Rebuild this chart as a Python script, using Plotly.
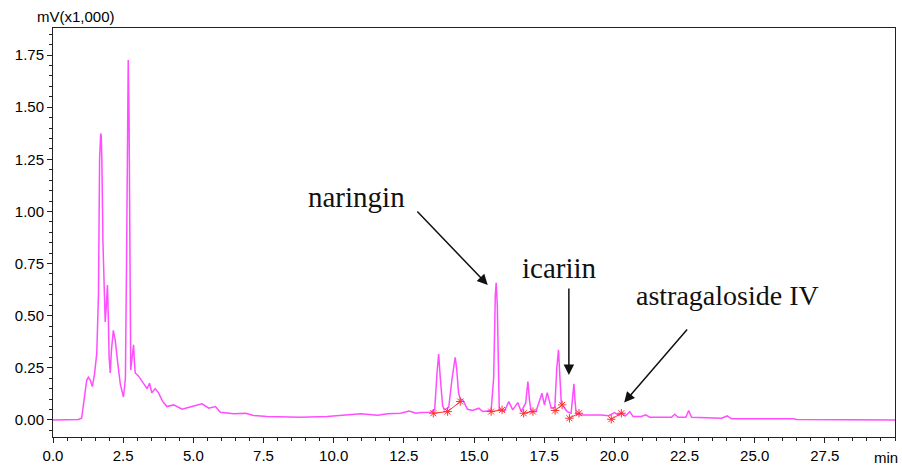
import plotly.graph_objects as go

# Chromatogram (time in min, signal in mV x1000)
time_min = [0.0, 0.9, 1.02, 1.10, 1.20, 1.26, 1.33, 1.40, 1.48, 1.56, 1.62, 1.66, 1.68, 1.70, 1.72, 1.74,
            1.78, 1.82, 1.86, 1.90, 1.94, 1.97, 2.00, 2.04, 2.08, 2.15, 2.22, 2.30, 2.40, 2.51, 2.58,
            2.62, 2.65, 2.68, 2.71, 2.74, 2.77, 2.82, 2.87, 2.90, 2.93, 3.05, 3.20, 3.35, 3.44, 3.52,
            3.64, 3.76, 3.90, 4.06, 4.30, 4.60, 4.95, 5.15, 5.31, 5.55, 5.79, 5.96, 6.44, 6.86, 7.15,
            7.63, 8.82, 9.77, 10.2, 10.6, 10.96, 11.56, 11.92, 12.39, 12.69, 12.93, 13.11, 13.46,
            13.60, 13.68, 13.74, 13.80, 13.88, 13.94, 14.10, 14.22, 14.30, 14.33, 14.38, 14.45, 14.51,
            14.60, 14.77, 14.95, 15.17, 15.31, 15.61, 15.70, 15.76, 15.79, 15.83, 15.87, 15.90, 16.08,
            16.24, 16.38, 16.56, 16.68, 16.84, 16.92, 16.98, 17.04, 17.21, 17.42, 17.51, 17.61, 17.75,
            17.88, 17.95, 18.01, 18.06, 18.11, 18.17, 18.32, 18.46, 18.51, 18.56, 18.60, 18.64, 18.82,
            19.54, 19.80, 20.01, 20.13, 20.27, 20.39, 20.55, 20.67, 20.96, 21.12, 21.26, 22.04, 22.15,
            22.27, 22.55, 22.65, 22.75, 23.82, 24.02, 24.18, 25.30, 26.38, 26.50, 30.0]
signal = [0.0, 0.002, 0.008, 0.10, 0.19, 0.205, 0.19, 0.16, 0.22, 0.32, 0.60, 1.25, 1.35, 1.374, 1.36, 1.25,
          0.85, 0.58, 0.47, 0.55, 0.647, 0.50, 0.30, 0.225, 0.33, 0.43, 0.38, 0.28, 0.17, 0.11, 0.20,
          0.75, 1.55, 1.726, 1.45, 0.60, 0.24, 0.30, 0.36, 0.28, 0.225, 0.21, 0.18, 0.15, 0.176, 0.13,
          0.15, 0.13, 0.09, 0.064, 0.072, 0.051, 0.064, 0.070, 0.077, 0.056, 0.064, 0.037, 0.029, 0.032, 0.021,
          0.016, 0.013, 0.016, 0.020, 0.026, 0.029, 0.022, 0.029, 0.032, 0.043, 0.032, 0.035, 0.037,
          0.05, 0.22, 0.316, 0.20, 0.07, 0.048, 0.06, 0.20, 0.29, 0.30, 0.25, 0.13, 0.099,
          0.096, 0.051, 0.045, 0.056, 0.040, 0.045, 0.20, 0.60, 0.658, 0.55, 0.15, 0.048, 0.040,
          0.088, 0.048, 0.083, 0.040, 0.08, 0.184, 0.09, 0.040, 0.040, 0.128, 0.072, 0.131, 0.056,
          0.06, 0.25, 0.336, 0.22, 0.08, 0.067, 0.040, 0.032, 0.09, 0.173, 0.09, 0.032, 0.024,
          0.024, 0.020, 0.035, 0.024, 0.035, 0.019, 0.040, 0.016, 0.016, 0.024, 0.013, 0.013, 0.027,
          0.013, 0.013, 0.045, 0.013, 0.008, 0.019, 0.005, 0.004, 0.006, 0.002, 0.0]

# Integration marks (peak start/end) and their baseline pairs
mark_t = [13.55, 14.06, 14.51, 15.61, 16.0, 16.77, 17.1, 17.89, 18.14, 18.4, 18.74, 19.89, 20.25]
mark_v = [0.032, 0.040, 0.088, 0.040, 0.048, 0.032, 0.040, 0.045, 0.072, 0.008, 0.032, 0.003, 0.032]
baseline_pairs = [(0, 1), (1, 2), (3, 4), (5, 6), (7, 8), (9, 10), (11, 12)]

x_ticks = [0, 2.5, 5, 7.5, 10, 12.5, 15, 17.5, 20, 22.5, 25, 27.5]
x_labels = ["0.0", "2.5", "5.0", "7.5", "10.0", "12.5", "15.0", "17.5", "20.0", "22.5", "25.0", "27.5"]
y_ticks = [0, 0.25, 0.5, 0.75, 1.0, 1.25, 1.5, 1.75]
y_labels = ["0.00", "0.25", "0.50", "0.75", "1.00", "1.25", "1.50", "1.75"]

seg_x, seg_y = [], []
for a, b in baseline_pairs:
    seg_x += [mark_t[a], mark_t[b], None]
    seg_y += [mark_v[a], mark_v[b], None]

fig = go.Figure()
fig.add_trace(go.Scatter(x=time_min, y=signal, mode="lines",
                         line=dict(color="#FF4DFF", width=1.5), hoverinfo="skip"))
fig.add_trace(go.Scatter(x=seg_x, y=seg_y, mode="lines",
                         line=dict(color="#FF3030", width=1), hoverinfo="skip"))
fig.add_trace(go.Scatter(x=mark_t, y=mark_v, mode="markers",
                         marker=dict(symbol="asterisk-open", size=7, color="#FF3030",
                                     line=dict(color="#FF3030", width=1)), hoverinfo="skip"))

axis_font = dict(family="Arial, Liberation Sans", size=15, color="#000000")
fig.update_xaxes(range=[0, 30], tickvals=x_ticks, ticktext=x_labels, ticks="outside", ticklen=5,
                 tickcolor="#222", showline=True, linecolor="#222", linewidth=1, mirror=True,
                 showgrid=False, zeroline=False, tickfont=axis_font, automargin=False,
                 minor=dict(dtick=0.5, ticks="outside", ticklen=3, tickcolor="#222", showgrid=False))
fig.update_yaxes(range=[-0.082, 1.88], tickvals=y_ticks, ticktext=y_labels, ticks="outside", ticklen=5,
                 tickcolor="#222", showline=True, linecolor="#222", linewidth=1, mirror=True,
                 showgrid=False, zeroline=False, tickfont=axis_font, automargin=False,
                 minor=dict(dtick=0.05, tick0=0, ticks="outside", ticklen=3, tickcolor="#222", showgrid=False))

serif = dict(family="Times New Roman, Liberation Serif", size=29, color="#111111")
serif_small = dict(family="Times New Roman, Liberation Serif", size=28, color="#111111")
annotations = [
    dict(text="mV(x1,000)", xref="paper", yref="paper", x=0.027, y=1.0, yshift=1, xanchor="center",
         yanchor="bottom", showarrow=False, font=axis_font),
    dict(text="min", xref="paper", yref="paper", x=1.0, y=0, xshift=5, yshift=-10, xanchor="right",
         yanchor="top", showarrow=False, font=axis_font),
    dict(text="naringin", xref="x", yref="y", x=10.82, y=1.07, showarrow=False, font=serif),
    dict(text="icariin", xref="x", yref="y", x=18.04, y=0.73, showarrow=False, font=serif),
    dict(text="astragaloside IV", xref="x", yref="y", x=24.03, y=0.595, showarrow=False, font=serif_small),
    dict(text="", xref="x", yref="y", axref="x", ayref="y", x=15.49, y=0.647, ax=12.93, ay=1.007,
         showarrow=True, arrowhead=2, arrowsize=1.4, arrowwidth=1.5, arrowcolor="#111"),
    dict(text="", xref="x", yref="y", axref="x", ayref="y", x=18.38, y=0.216, ax=18.38, ay=0.638,
         showarrow=True, arrowhead=2, arrowsize=1.4, arrowwidth=1.5, arrowcolor="#111"),
    dict(text="", xref="x", yref="y", axref="x", ayref="y", x=20.35, y=0.083, ax=22.64, ay=0.441,
         showarrow=True, arrowhead=2, arrowsize=1.4, arrowwidth=1.5, arrowcolor="#111"),
]

fig.update_layout(width=902, height=466, margin=dict(l=53, r=7, t=28, b=29),
                  paper_bgcolor="white", plot_bgcolor="white", showlegend=False,
                  annotations=annotations)

fig.write_html("out.html", config={"displayModeBar": False},
               post_script="document.body.style.margin='0';")
